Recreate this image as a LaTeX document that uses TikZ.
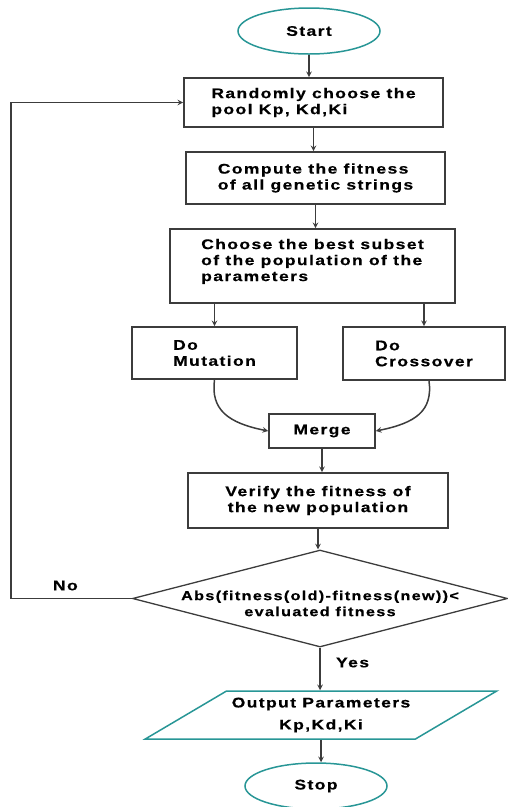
\documentclass[tikz,border=0pt]{standalone}
\usepackage{fontspec}
\setmainfont{Liberation Sans}[FakeStretch=1.25,LetterSpace=10,BoldFeatures={FakeBold=0.5}]
\usepackage{tikz}
\usetikzlibrary{shapes.geometric}

\definecolor{termteal}{RGB}{40,150,150}
\definecolor{linegray}{RGB}{60,60,60}

\tikzset{
  txt/.style={text=black, font=\bfseries\fontsize{14}{16}\selectfont},
  stepbox/.style={txt, draw=linegray, line width=1.6pt, rectangle, align=left, inner sep=0pt},
  term/.style={txt, ellipse, draw=termteal, line width=1.5pt, minimum width=142pt, minimum height=46pt, inner sep=0pt},
  decision/.style={diamond, draw=linegray, line width=1.3pt, minimum width=375pt, minimum height=97pt, inner sep=0pt},
  io/.style={txt, trapezium, trapezium left angle=24.3, trapezium right angle=155.7, trapezium stretches=true,
    draw=termteal, line width=1.5pt, minimum width=352pt, minimum height=48pt, inner sep=0pt, align=center}
}

\begin{document}
\begin{tikzpicture}[x=1pt, y=-1pt, >=stealth, line width=1.5pt]
  \useasboundingbox (0,0) rectangle (507,807);

  \node[term] (start) at (309,31) {Start};
  \node[stepbox, minimum width=259pt, minimum height=49pt] (pool) at (313.5,102.5) {Randomly choose the\\ pool Kp, Kd,Ki};
  \node[stepbox, minimum width=259pt, minimum height=52pt] (fit) at (315.5,178) {Compute the fitness\\of all genetic strings};
  \node[stepbox, minimum width=285pt, minimum height=74pt] (subset) at (312.5,266) {Choose the best subset\\of the population of the\\parameters\\[-4pt]\mbox{}};
  \node[stepbox, minimum width=165pt, minimum height=52pt] (mut) at (214.5,353) {Do\\Mutation};
  \node[stepbox, minimum width=162pt, minimum height=53pt] (cross) at (424,353.5) {Do\\Crossover};
  \node[stepbox, minimum width=106pt, minimum height=34pt] (merge) at (322,431) {Merge};
  \node[stepbox, minimum width=260pt, minimum height=55pt, align=center] (verify) at (318,500.5) {Verify the fitness of\\the new population};
  \node[decision, label={[txt, font=\bfseries\fontsize{13}{16}\selectfont, align=center, yshift=-5pt]center:{Abs(fitness(old)-fitness(new))<\\evaluated fitness}}] (check) at (320,598.5) {};
  \node[io, font=\bfseries\fontsize{14}{22}\selectfont] (out) at (321,715) {Output Parameters\\Kp,Kd,Ki};
  \node[term] (stop) at (316,786) {Stop};

  \coordinate (loop) at (11,0);

  \draw[->, linegray] (start.south) -- (start.south |- pool.north);
  \draw[->, linegray] (pool.south) -- (pool.south |- fit.north);
  \draw[->, linegray] (fit.south) -- (fit.south |- subset.north);
  \draw[->, linegray] (subset.south -| mut) -- (mut.north);
  \draw[->, linegray] (subset.south -| cross) -- (cross.north);
  \draw[->, linegray] (mut.south) .. controls +(-4,30) and +(-40,-8) .. (merge.west);
  \draw[->, linegray] ([xshift=5pt]cross.south) .. controls +(4,30) and +(40,-8) .. (merge.east);
  \draw[->, linegray] (merge.south) -- (merge.south |- verify.north);
  \draw[->, linegray] (verify.south) -- (verify.south |- check.north);
  \draw[->, linegray] (check.south) -- node[txt, pos=0.35, right=12pt] {Yes} (check.south |- out.north);
  \draw[->, linegray] (out.south) -- (out.south |- stop.north);

  \draw[->, linegray] (check.west) -- node[txt, above=4pt, pos=0.55] {No} (check.west -| loop) |- (pool.west);
\end{tikzpicture}
\end{document}
